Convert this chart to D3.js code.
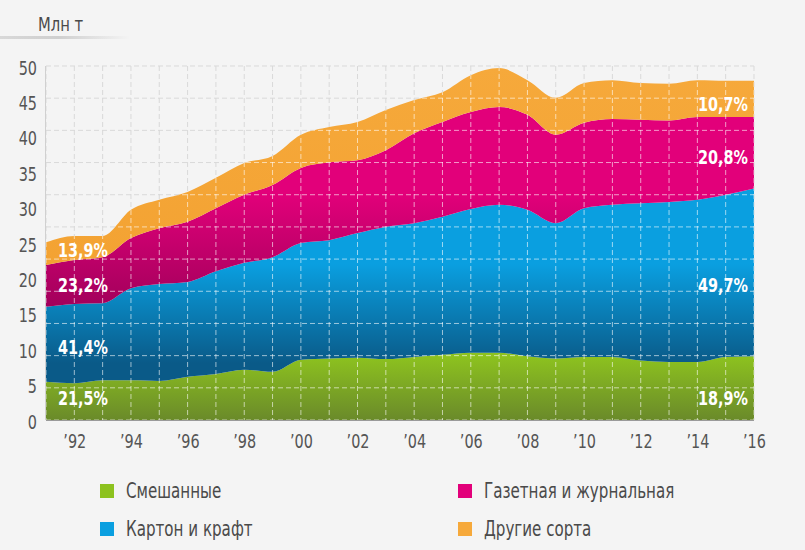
<!DOCTYPE html>
<html>
<head>
<meta charset="utf-8">
<script src="https://cdn.jsdelivr.net/npm/d3@7"></script>
<style>
  body { margin: 0; background: #f4f4f4; }
  svg { display: block; }
  text { font-family: "DejaVu Sans", sans-serif; }
</style>
</head>
<body>
<svg width="805" height="550"></svg>
<script>
// years on the x axis
var years = d3.range(1991, 2017);
// stacked layers, mln t
var mixed   = [5.4, 5.2, 5.6, 5.6, 5.5, 6.1, 6.5, 7.1, 6.8, 8.5, 8.7, 8.8, 8.6, 8.9, 9.2, 9.5, 9.5, 9.0, 8.7, 8.9, 8.9, 8.4, 8.2, 8.2, 8.9, 9.0];
var board   = [10.6, 11.2, 10.9, 13.0, 13.7, 13.4, 14.5, 15.1, 16.2, 16.5, 16.7, 17.6, 18.7, 18.9, 19.5, 20.3, 20.9, 20.7, 19.1, 21.0, 21.5, 22.2, 22.6, 22.9, 22.9, 23.7];
var news    = [5.9, 6.2, 6.5, 7.1, 7.9, 8.5, 8.9, 9.6, 10.2, 10.6, 11.0, 10.3, 10.8, 12.7, 13.4, 13.7, 13.8, 13.4, 12.5, 12.1, 12.1, 11.8, 11.5, 11.7, 11.0, 10.1];
var other   = [3.2, 3.4, 3.0, 4.0, 4.0, 4.2, 4.3, 4.5, 4.1, 4.7, 5.0, 5.4, 5.7, 4.7, 4.2, 5.2, 5.5, 4.9, 5.2, 5.6, 5.5, 5.2, 5.2, 5.2, 5.1, 5.1];
var seriesNames = ["Смешанные", "Картон и крафт", "Газетная и журнальная", "Другие сорта"];
var yTicks = [0, 5, 10, 15, 20, 25, 30, 35, 40, 45, 50];
var xTicks = [1992, 1994, 1996, 1998, 2000, 2002, 2004, 2006, 2008, 2010, 2012, 2014, 2016];
var leftShares  = ["21,5%", "41,4%", "23,2%", "13,9%"];
var rightShares = ["18,9%", "49,7%", "20,8%", "10,7%"];
// where the share labels sit, in mln t
var leftLevels  = [3.1, 10.3, 19.1, 24.0];
var rightLevels = [3.1, 19.0, 37.2, 44.6];

var colors = [
  {top: "#8dc21f", bottom: "#6a8a2a", from: 9, to: 0},
  {top: "#0a9fe0", bottom: "#0a5a88", from: 22, to: 8},
  {top: "#e2007a", bottom: "#a2005b", from: 32, to: 16},
  {top: "#f6a93b", bottom: "#f3a232", from: 50, to: 20}
];

var table = years.map(function(yr, i) {
  return {year: yr, s0: mixed[i], s1: board[i], s2: news[i], s3: other[i]};
});
var keys = ["s0", "s1", "s2", "s3"];
var stacked = d3.stack().keys(keys)(table);

var svg = d3.select("svg");
var margin = {top: 66, right: 51, bottom: 130, left: 46};
var width = 805 - margin.left - margin.right;
var height = 550 - margin.top - margin.bottom;

var x = d3.scaleLinear().domain([1991, 2016]).range([margin.left, margin.left + width]);
var y = d3.scaleLinear().domain([0, 50]).range([margin.top + height, margin.top]);

// no condensed font installed, so squeeze the text horizontally
function condense(sel, k) {
  sel.each(function() {
    var t = d3.select(this);
    var tx = +t.attr("x") || 0, ty = +t.attr("y") || 0;
    t.attr("x", 0).attr("y", 0)
      .attr("transform", "translate(" + tx + "," + ty + ") scale(" + k + ",1)");
  });
}

var defs = svg.append("defs");
colors.forEach(function(c, i) {
  var g = defs.append("linearGradient")
    .attr("id", "grad" + i)
    .attr("gradientUnits", "userSpaceOnUse")
    .attr("x1", 0).attr("x2", 0)
    .attr("y1", y(c.from)).attr("y2", y(c.to));
  g.append("stop").attr("offset", 0).attr("stop-color", c.top);
  g.append("stop").attr("offset", 1).attr("stop-color", c.bottom);
});
var sh = defs.append("linearGradient").attr("id", "shadow");
sh.append("stop").attr("offset", 0).attr("stop-color", "#d8d8d8");
sh.append("stop").attr("offset", 0.45).attr("stop-color", "#cfcfcf");
sh.append("stop").attr("offset", 1).attr("stop-color", "#f4f4f4");

// title
svg.append("text")
  .attr("x", 38).attr("y", 31)
  .attr("fill", "#4a4a4a")
  .style("font-size", "20px")
  .text("Млн т")
  .call(condense, 0.74);
svg.append("rect")
  .attr("x", 0).attr("y", 36).attr("width", 130).attr("height", 3)
  .attr("fill", "url(#shadow)");

// grid helper
var hGrid = d3.range(0, 12).map(function(i) { return i * 50 / 11; });
function drawGrid(g, color, op) {
  g.selectAll(".h").data(hGrid).enter().append("line")
    .attr("x1", margin.left).attr("x2", margin.left + width)
    .attr("y1", function(d) { return y(d); }).attr("y2", function(d) { return y(d); })
    .attr("stroke", color).attr("stroke-opacity", op)
    .attr("stroke-dasharray", "5,3");
  g.selectAll(".v").data(years).enter().append("line")
    .attr("y1", margin.top).attr("y2", margin.top + height)
    .attr("x1", function(d) { return x(d); }).attr("x2", function(d) { return x(d); })
    .attr("stroke", color).attr("stroke-opacity", op)
    .attr("stroke-dasharray", "5,3");
}
drawGrid(svg.append("g"), "#d9d9d9", 1);

var area = d3.area()
  .curve(d3.curveMonotoneX)
  .x(function(d) { return x(d.data.year); })
  .y0(function(d) { return y(d[0]); })
  .y1(function(d) { return y(d[1]); });

svg.append("g").selectAll("path")
  .data(stacked)
  .enter().append("path")
  .attr("d", area)
  .attr("fill", function(d, i) { return "url(#grad" + i + ")"; });

// white grid over the colored areas
defs.append("clipPath").attr("id", "clipAll")
  .append("path").attr("d", area(stacked[3].map(function(d) { var p = [0, d[1]]; p.data = d.data; return p; })));
drawGrid(svg.append("g").attr("clip-path", "url(#clipAll)"), "#ffffff", 0.6);

// axis lines
svg.append("line")
  .attr("x1", margin.left).attr("x2", margin.left + width)
  .attr("y1", y(0) + 0.5).attr("y2", y(0) + 0.5)
  .attr("stroke", "#9a9a9a");
svg.append("line")
  .attr("x1", margin.left - 0.5).attr("x2", margin.left - 0.5)
  .attr("y1", margin.top).attr("y2", y(0))
  .attr("stroke", "#d0d0d0");

// y axis
var yAxis = d3.axisLeft(y).tickValues(yTicks).tickSize(0).tickPadding(9);
svg.append("g")
  .attr("transform", "translate(" + margin.left + ",2)")
  .call(yAxis)
  .call(function(g) { g.select(".domain").remove(); })
  .selectAll("text")
  .attr("fill", "#555")
  .style("font-size", "19px")
  .call(condense, 0.76);

// x axis
var xAxis = d3.axisBottom(x).tickValues(xTicks).tickSize(0).tickPadding(15)
  .tickFormat(function(d) { return "\u2019" + String(d).slice(2); });
svg.append("g")
  .attr("transform", "translate(0," + y(0) + ")")
  .call(xAxis)
  .call(function(g) { g.select(".domain").remove(); })
  .selectAll("text")
  .attr("fill", "#555")
  .style("font-size", "19px")
  .call(condense, 0.76);

// share labels
svg.append("g").selectAll("text")
  .data(leftShares).enter().append("text")
  .attr("x", x(1991) + 12)
  .attr("y", function(d, i) { return y(leftLevels[i]); })
  .attr("dy", "0.35em")
  .attr("fill", "#fff")
  .style("font-size", "20px").style("font-weight", "bold")
  .text(function(d) { return d; })
  .call(condense, 0.72);
svg.append("g").selectAll("text")
  .data(rightShares).enter().append("text")
  .attr("x", x(2016) - 6)
  .attr("y", function(d, i) { return y(rightLevels[i]); })
  .attr("dy", "0.35em")
  .attr("text-anchor", "end")
  .attr("fill", "#fff")
  .style("font-size", "20px").style("font-weight", "bold")
  .text(function(d) { return d; })
  .call(condense, 0.72);

// legend
var legendPos = [[100, 491], [100, 529], [458, 491], [458, 529]];
var legendG = svg.selectAll(".legend")
  .data(seriesNames)
  .enter().append("g")
  .attr("class", "legend")
  .attr("transform", function(d, i) { return "translate(" + legendPos[i][0] + "," + legendPos[i][1] + ")"; });
legendG.append("rect")
  .attr("y", -7).attr("width", 14).attr("height", 14)
  .attr("fill", function(d, i) { return colors[i].top; });
legendG.append("text")
  .attr("x", 26).attr("dy", "0.35em")
  .attr("fill", "#4a4a4a")
  .style("font-size", "21px")
  .text(function(d) { return d; })
  .call(condense, 0.72);
</script>
</body>
</html>
